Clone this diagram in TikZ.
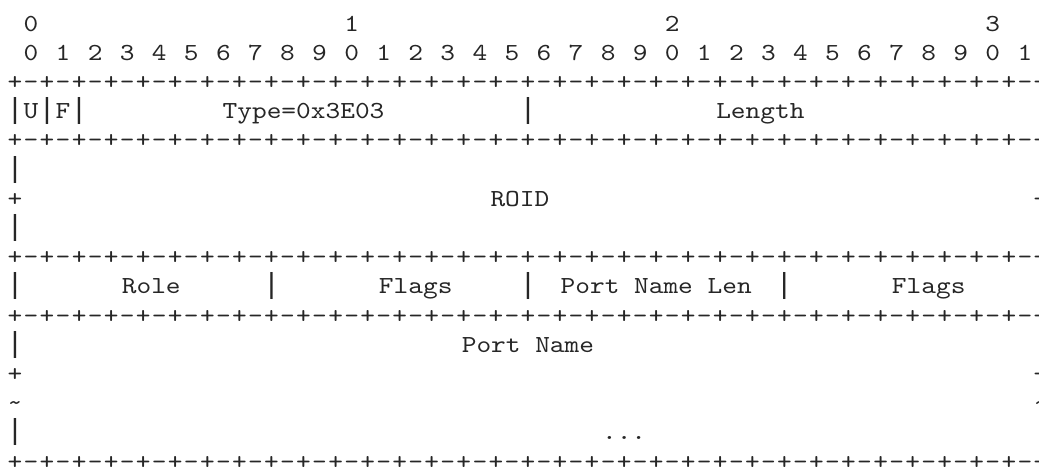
\documentclass[tikz,border=0pt]{standalone}
\usepackage{fontspec}
\newfontfamily\asciifont{lmmono10-regular.otf}[FakeStretch=1.143]
\newfontfamily\barfont{Liberation Mono}
\newcommand{\vbar}{\makebox[6pt]{|}}
\tikzset{
  ch/.style={anchor=base, inner sep=0pt, outer sep=0pt, text=black!85,
    font=\asciifont\fontsize{24.5}{24.5}\selectfont},
  bar/.style={ch, font=\barfont\fontsize{29}{29}\selectfont},
}
\begin{document}
\begin{tikzpicture}
  \useasboundingbox (0pt,0pt) rectangle (1039pt,-467pt);
  \begin{scope}[shift={(15pt,-31pt)}, x=16.03pt, y=-29.2pt]
    % 1. bit ruler
    \foreach \t/\c in {0/1,1/21,2/41,3/61}
      \node[ch] (ten\t) at (\c,0) {\t};
    \foreach \b in {0,...,31} {
      \pgfmathtruncatemacro{\d}{mod(\b,10)}
      \node[ch] (bit\b) at ({1+2*\b},1) {\d};
    }

    % 2. separator lines +-+-+
    \foreach \r in {2,4,8,10,15} {
      \foreach \c in {0,...,64} {
        \ifodd\c\relax
          \node[ch] (sep\r-\c) at (\c,\r) {-};
        \else
          \node[ch] (sep\r-\c) at (\c,\r) {+};
        \fi
      }
    }

    % 3. first word: U, F, Type, Length
    \foreach \c in {0,2,4,32,64}
      \node[bar] (bar3-\c) at (\c,3) {\vbar};
    \node[ch] (u) at (1,3) {U};
    \node[ch] (f) at (3,3) {F};
    \node[ch] (type) at (18,3) {Type=0x3E03};
    \node[ch] (length) at (46.5,3) {Length};

    % 4. ROID
    \foreach \r in {5,7} {
      \node[bar] (left\r) at (0,\r) {\vbar};
      \node[bar] (right\r) at (64,\r) {\vbar};
    }
    \node[ch] (left6) at (0,6) {+};
    \node[ch] (right6) at (64,6) {+};
    \node[ch] (roid) at (31.5,6) {ROID};

    % 5. Role, Flags, Port Name Len, Flags
    \foreach \c in {0,16,32,48,64}
      \node[bar] (bar9-\c) at (\c,9) {\vbar};
    \node[ch] (role) at (8.5,9) {Role};
    \node[ch] (flagsa) at (25,9) {Flags};
    \node[ch] (pnlen) at (40,9) {Port Name Len};
    \node[ch] (flagsb) at (57,9) {Flags};

    % 6. Port Name
    \foreach \r in {11,14} {
      \node[bar] (left\r) at (0,\r) {\vbar};
      \node[bar] (right\r) at (64,\r) {\vbar};
    }
    \foreach \r/\s in {12/+,13/\textasciitilde} {
      \node[ch] (left\r) at (0,\r) {\s};
      \node[ch] (right\r) at (64,\r) {\s};
    }
    \node[ch] (pname) at (32,11) {Port Name};
    \node[ch] (dots) at (38,14) {...};
  \end{scope}
\end{tikzpicture}
\end{document}
